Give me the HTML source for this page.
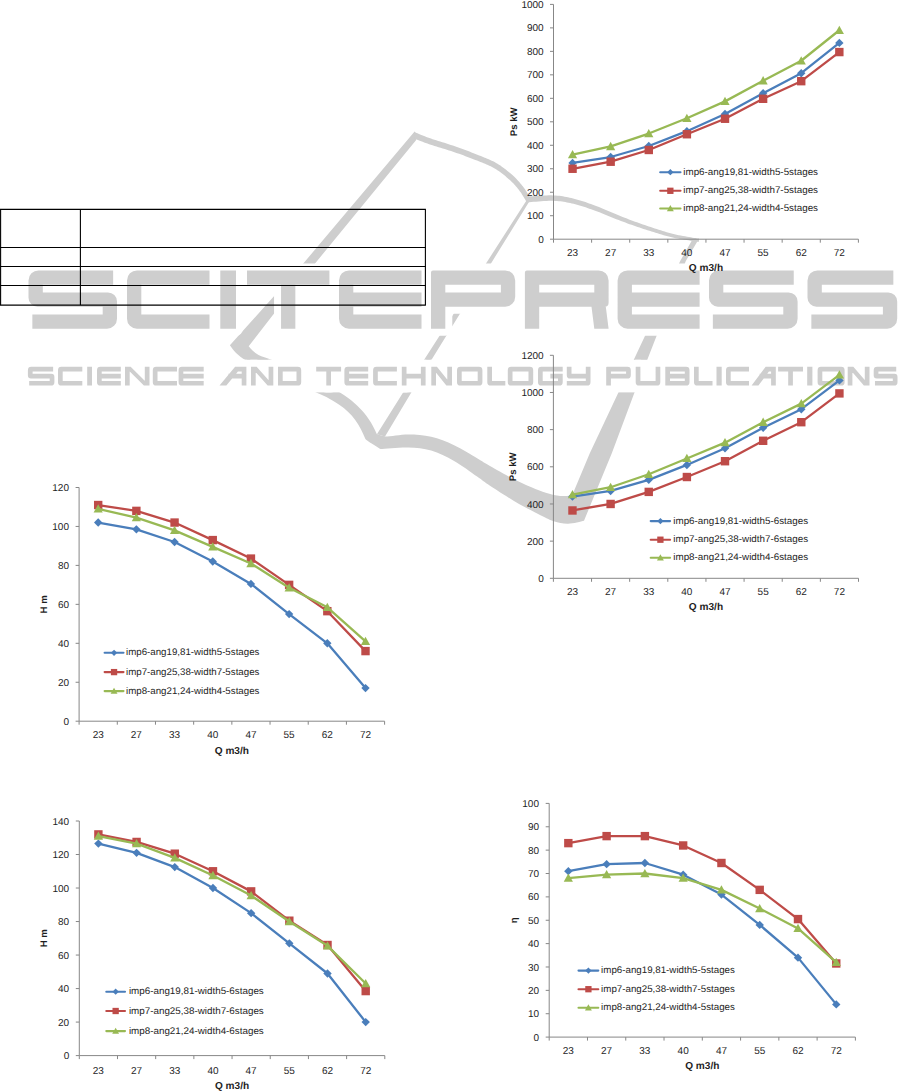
<!DOCTYPE html>
<html><head><meta charset="utf-8"><style>
html,body{margin:0;padding:0;background:#fff;}
body{width:915px;height:1092px;overflow:hidden;position:relative;}
svg{position:absolute;left:0;top:0;}
text{text-rendering:geometricPrecision;}
.ax{font-family:"Liberation Sans",sans-serif;font-size:10px;fill:#1e1e1e;}
.tt{font-family:"Liberation Sans",sans-serif;font-size:10.1px;font-weight:bold;fill:#1e1e1e;}
.yt{font-size:9.6px;}
.lg{font-family:"Liberation Sans",sans-serif;font-size:9.6px;fill:#1e1e1e;}
</style></head><body>
<svg width="915" height="1092" viewBox="0 0 915 1092">
<defs><filter id="bl" x="-5%" y="-5%" width="110%" height="110%"><feGaussianBlur stdDeviation="0.45"/></filter></defs><g filter="url(#bl)">
<path d="M414.6,131.5 L418,135 L416,140.2 L273.1,314.7 L248.7,346.2 C252,350 254,353 262,356.5 C272,360 285,364 300,370 L340,392.4 C352,400 368,412 376.9,434.2 L385,436.6  L380.2,449 C372,444 366,440 365.4,439.1 C360,425 352,413 339.2,404.7 C330,398 322,395 316.2,392.4 L245.6,360.2 C238,356 233,350 229.9,345.3 L303.7,263 Z" fill="#cecece"/>
<path d="M413.70,138.29 L414.39,138.56 L415.22,138.90 L416.19,139.29 L417.28,139.73 L418.49,140.22 L419.79,140.74 L421.18,141.29 L422.64,141.86 L424.17,142.44 L425.76,143.03 L427.38,143.61 L429.04,144.19 L430.77,144.77 L432.59,145.35 L434.50,145.95 L436.48,146.55 L438.52,147.17 L440.59,147.80 L442.70,148.43 L444.81,149.07 L446.92,149.72 L449.00,150.38 L451.06,151.05 L453.07,151.72 L455.08,152.41 L457.12,153.13 L459.19,153.86 L461.28,154.61 L463.36,155.36 L465.43,156.13 L467.48,156.89 L469.50,157.65 L471.48,158.41 L473.41,159.15 L475.26,159.88 L477.05,160.60 L478.78,161.29 L480.45,161.95 L482.05,162.58 L483.60,163.20 L485.09,163.80 L486.54,164.41 L487.95,165.02 L489.33,165.64 L490.69,166.29 L492.03,166.97 L493.36,167.69 L494.69,168.45 L496.03,169.28 L497.38,170.15 L498.74,171.08 L500.08,172.05 L501.42,173.04 L502.74,174.06 L504.04,175.09 L505.30,176.12 L506.52,177.15 L507.70,178.16 L508.83,179.14 L509.90,180.09 L510.89,180.99 L511.82,181.88 L512.69,182.75 L513.53,183.61 L514.32,184.46 L515.08,185.31 L515.81,186.16 L516.53,187.01 L517.23,187.87 L517.92,188.73 L518.61,189.61 L519.29,190.49 L519.97,191.39 L520.65,192.35 L521.33,193.36 L522.01,194.40 L522.68,195.45 L523.32,196.49 L523.94,197.50 L524.52,198.45 L525.05,199.34 L525.53,200.13 L525.95,200.82 L526.29,201.37 L530.71,198.63 L530.38,198.10 L529.99,197.45 L529.52,196.66 L529.00,195.77 L528.41,194.80 L527.79,193.76 L527.12,192.68 L526.43,191.57 L525.72,190.46 L524.98,189.37 L524.24,188.31 L523.51,187.31 L522.79,186.37 L522.08,185.46 L521.36,184.55 L520.63,183.64 L519.87,182.72 L519.08,181.80 L518.26,180.88 L517.41,179.95 L516.51,179.01 L515.56,178.05 L514.56,177.09 L513.50,176.11 L512.40,175.12 L511.23,174.09 L510.02,173.04 L508.75,171.97 L507.44,170.89 L506.10,169.80 L504.72,168.72 L503.31,167.66 L501.88,166.63 L500.43,165.62 L498.97,164.66 L497.51,163.75 L496.05,162.90 L494.59,162.10 L493.14,161.35 L491.68,160.65 L490.21,159.97 L488.72,159.32 L487.22,158.68 L485.69,158.05 L484.12,157.41 L482.51,156.77 L480.86,156.10 L479.15,155.40 L477.35,154.67 L475.46,153.92 L473.52,153.15 L471.52,152.38 L469.49,151.60 L467.42,150.81 L465.33,150.03 L463.23,149.25 L461.13,148.48 L459.04,147.73 L456.97,147.00 L454.93,146.28 L452.88,145.58 L450.78,144.88 L448.66,144.20 L446.53,143.53 L444.40,142.87 L442.29,142.22 L440.22,141.58 L438.21,140.96 L436.25,140.35 L434.38,139.75 L432.62,139.17 L430.96,138.61 L429.37,138.05 L427.81,137.47 L426.28,136.89 L424.79,136.32 L423.37,135.75 L422.01,135.21 L420.73,134.69 L419.55,134.20 L418.46,133.75 L417.48,133.35 L416.62,133.00 L415.90,132.71Z" fill="#cecece"/>
<path d="M526.19,202.49 L527.55,202.40 L529.28,202.25 L531.31,202.07 L533.58,201.87 L536.03,201.66 L538.60,201.45 L541.24,201.25 L543.89,201.07 L546.48,200.92 L548.96,200.82 L551.25,200.78 L553.31,200.80 L555.20,200.88 L557.02,200.99 L558.76,201.14 L560.45,201.33 L562.09,201.55 L563.71,201.80 L565.31,202.08 L566.91,202.39 L568.53,202.72 L570.17,203.08 L571.86,203.47 L573.59,203.87 L575.32,204.30 L577.03,204.75 L578.73,205.22 L580.43,205.72 L582.14,206.24 L583.87,206.79 L585.63,207.37 L587.43,207.99 L589.27,208.63 L591.17,209.30 L593.14,210.00 L595.17,210.73 L597.28,211.51 L599.49,212.36 L601.78,213.26 L604.14,214.20 L606.55,215.17 L608.98,216.16 L611.43,217.16 L613.87,218.15 L616.29,219.13 L618.67,220.07 L620.99,220.97 L623.23,221.82 L625.39,222.62 L627.50,223.39 L629.57,224.14 L631.61,224.86 L633.62,225.57 L635.61,226.26 L637.59,226.93 L639.56,227.60 L641.52,228.25 L643.50,228.90 L645.48,229.54 L647.48,230.18 L649.50,230.82 L651.52,231.46 L653.54,232.10 L655.57,232.74 L657.59,233.36 L659.62,233.97 L661.65,234.57 L663.67,235.15 L665.68,235.71 L667.69,236.25 L669.69,236.76 L671.68,237.25 L673.72,237.71 L675.84,238.15 L678.01,238.57 L680.20,238.97 L682.37,239.35 L684.51,239.71 L686.58,240.04 L688.54,240.35 L690.37,240.63 L692.03,240.89 L693.49,241.11 L694.74,241.31 L695.76,241.47 L696.59,241.58 L697.24,241.66 L697.76,241.70 L698.17,241.72 L698.53,241.71 L698.89,241.67 L699.22,241.57 L699.38,241.50 L699.21,241.56 L698.96,241.60 L698.97,241.60 L699.03,238.40 L698.77,238.40 L698.36,238.47 L698.07,238.58 L698.10,238.57 L698.26,238.52 L698.33,238.51 L698.25,238.51 L698.00,238.50 L697.60,238.45 L697.03,238.38 L696.26,238.26 L695.26,238.09 L694.02,237.88 L692.55,237.63 L690.89,237.35 L689.08,237.05 L687.13,236.71 L685.09,236.35 L682.98,235.97 L680.83,235.56 L678.68,235.13 L676.56,234.69 L674.50,234.23 L672.52,233.75 L670.59,233.25 L668.64,232.72 L666.68,232.17 L664.70,231.59 L662.72,230.99 L660.73,230.36 L658.73,229.73 L656.73,229.08 L654.73,228.42 L652.72,227.76 L650.72,227.09 L648.72,226.42 L646.73,225.75 L644.77,225.09 L642.82,224.41 L640.88,223.74 L638.94,223.05 L636.99,222.35 L635.02,221.64 L633.04,220.91 L631.03,220.17 L628.98,219.40 L626.90,218.60 L624.77,217.78 L622.58,216.91 L620.31,215.99 L617.97,215.02 L615.58,214.02 L613.16,212.99 L610.73,211.96 L608.30,210.93 L605.90,209.92 L603.53,208.93 L601.22,207.99 L598.98,207.09 L596.83,206.27 L594.79,205.50 L592.82,204.76 L590.91,204.06 L589.05,203.38 L587.22,202.73 L585.43,202.11 L583.66,201.51 L581.90,200.94 L580.14,200.40 L578.38,199.88 L576.60,199.39 L574.81,198.93 L573.05,198.49 L571.33,198.07 L569.64,197.67 L567.97,197.30 L566.29,196.95 L564.59,196.63 L562.88,196.34 L561.12,196.08 L559.32,195.85 L557.46,195.66 L555.52,195.51 L553.49,195.40 L551.27,195.34 L548.84,195.36 L546.26,195.42 L543.59,195.53 L540.88,195.68 L538.20,195.84 L535.59,196.02 L533.12,196.20 L530.85,196.36 L528.83,196.51 L527.14,196.63 L525.81,196.71Z" fill="#cecece"/>
<path d="M526.8,200 L530.2,200 L411.3,392.4 L385,436.6 L376.9,434.2 L403.1,392.4 Z" fill="#cecece"/>
<path d="M376.90,434.20 C378.25,434.60 379.78,436.55 385.00,436.60 C390.22,436.65 400.50,434.47 408.20,434.50 C415.90,434.53 423.55,435.02 431.20,436.80 C438.85,438.58 446.45,441.63 454.10,445.20 C461.75,448.77 471.12,454.73 477.10,458.20 C483.08,461.67 483.85,462.50 490.00,466.00 C496.15,469.50 505.98,475.20 514.00,479.20 C522.02,483.20 531.48,487.38 538.10,490.00 C544.72,492.62 548.90,493.88 553.70,494.90 C558.50,495.92 563.77,496.17 566.90,496.10 C570.03,496.03 571.57,494.77 572.50,494.50 L589.8,453.3 L618.4,392.5 L680.2,261 L693,238.5 L698.5,239.5 L685.8,261 L634.5,392.5 L611.8,453.3 L584,520.7 C581.35,521.20 573.15,523.60 568.10,523.70 C563.05,523.80 558.70,522.90 553.70,521.30 C548.70,519.70 544.72,517.50 538.10,514.10 C531.48,510.70 522.02,505.62 514.00,500.90 C505.98,496.18 496.15,489.85 490.00,485.80 C483.85,481.75 483.08,480.73 477.10,476.60 C471.12,472.47 461.75,465.33 454.10,461.00 C446.45,456.67 438.85,452.85 431.20,450.60 C423.55,448.35 416.70,447.77 408.20,447.50 C399.70,447.23 384.87,448.75 380.20,449.00 Z" fill="#cecece"/>
<path d="M38.50,270.40L113.14,270.40L113.14,284.70L28.50,284.70L28.50,280.40A10,10 0 0 1 38.50,270.40ZM38.50,270.40L42.80,270.40L42.80,306.75L37.50,306.75A9.0,9.0 0 0 1 28.50,297.75L28.50,280.40A10,10 0 0 1 38.50,270.40ZM28.50,292.45L108.00,292.45A9.0,9.0 0 0 1 117.00,301.45L117.00,306.75L37.50,306.75A9.0,9.0 0 0 1 28.50,297.75L28.50,292.45ZM102.70,292.45L108.00,292.45A9.0,9.0 0 0 1 117.00,301.45L117.00,318.80A10,10 0 0 1 107.00,328.80L102.70,328.80L102.70,292.45ZM32.36,314.50L117.00,314.50L117.00,318.80A10,10 0 0 1 107.00,328.80L32.36,328.80L32.36,314.50ZM137.00,270.40L209.50,270.40L209.50,284.70L127.00,284.70L127.00,280.40A10,10 0 0 1 137.00,270.40ZM137.00,270.40L141.30,270.40L141.30,328.80L137.00,328.80A10,10 0 0 1 127.00,318.80L127.00,280.40A10,10 0 0 1 137.00,270.40ZM127.00,314.50L209.50,314.50L209.50,328.80L137.00,328.80A10,10 0 0 1 127.00,318.80L127.00,314.50ZM220.30,270.40L236.00,270.40L236.00,328.80L220.30,328.80L220.30,270.40ZM247.00,270.40L329.40,270.40L329.40,284.70L247.00,284.70L247.00,270.40ZM281.05,270.40L295.35,270.40L295.35,328.80L281.05,328.80L281.05,270.40ZM349.00,270.40L421.50,270.40L421.50,284.70L339.00,284.70L339.00,280.40A10,10 0 0 1 349.00,270.40ZM349.00,270.40L353.30,270.40L353.30,328.80L349.00,328.80A10,10 0 0 1 339.00,318.80L339.00,280.40A10,10 0 0 1 349.00,270.40ZM339.00,292.45L421.50,292.45L421.50,306.75L339.00,306.75L339.00,292.45ZM339.00,314.50L421.50,314.50L421.50,328.80L349.00,328.80A10,10 0 0 1 339.00,318.80L339.00,314.50ZM433.00,270.40L505.20,270.40A10,10 0 0 1 515.20,280.40L515.20,284.70L431.00,284.70L431.00,272.40A2.0,2.0 0 0 1 433.00,270.40ZM433.00,270.40L445.30,270.40L445.30,328.80L431.00,328.80L431.00,272.40A2.0,2.0 0 0 1 433.00,270.40ZM500.90,270.40L505.20,270.40A10,10 0 0 1 515.20,280.40L515.20,296.75A10,10 0 0 1 505.20,306.75L500.90,306.75L500.90,270.40ZM431.00,292.45L515.20,292.45L515.20,296.75A10,10 0 0 1 505.20,306.75L431.00,306.75L431.00,292.45ZM526.90,270.40L598.60,270.40A10,10 0 0 1 608.60,280.40L608.60,284.70L524.90,284.70L524.90,272.40A2.0,2.0 0 0 1 526.90,270.40ZM526.90,270.40L539.20,270.40L539.20,328.80L524.90,328.80L524.90,272.40A2.0,2.0 0 0 1 526.90,270.40ZM594.30,270.40L598.60,270.40A10,10 0 0 1 608.60,280.40L608.60,302.75A4.0,4.0 0 0 1 604.60,306.75L594.30,306.75L594.30,270.40ZM524.90,292.45L605.74,292.45L605.74,302.75A4.0,4.0 0 0 1 601.74,306.75L524.90,306.75L524.90,292.45ZM591.44,306.25 L605.74,306.25 L608.60,328.80 L594.30,328.80ZM627.60,270.40L699.60,270.40L699.60,284.70L617.60,284.70L617.60,280.40A10,10 0 0 1 627.60,270.40ZM627.60,270.40L631.90,270.40L631.90,328.80L627.60,328.80A10,10 0 0 1 617.60,318.80L617.60,280.40A10,10 0 0 1 627.60,270.40ZM617.60,292.45L699.60,292.45L699.60,306.75L617.60,306.75L617.60,292.45ZM617.60,314.50L699.60,314.50L699.60,328.80L627.60,328.80A10,10 0 0 1 617.60,318.80L617.60,314.50ZM719.00,270.40L793.74,270.40L793.74,284.70L709.00,284.70L709.00,280.40A10,10 0 0 1 719.00,270.40ZM719.00,270.40L723.30,270.40L723.30,306.75L718.00,306.75A9.0,9.0 0 0 1 709.00,297.75L709.00,280.40A10,10 0 0 1 719.00,270.40ZM709.00,292.45L788.60,292.45A9.0,9.0 0 0 1 797.60,301.45L797.60,306.75L718.00,306.75A9.0,9.0 0 0 1 709.00,297.75L709.00,292.45ZM783.30,292.45L788.60,292.45A9.0,9.0 0 0 1 797.60,301.45L797.60,318.80A10,10 0 0 1 787.60,328.80L783.30,328.80L783.30,292.45ZM712.86,314.50L797.60,314.50L797.60,318.80A10,10 0 0 1 787.60,328.80L712.86,328.80L712.86,314.50ZM817.50,270.40L893.34,270.40L893.34,284.70L807.50,284.70L807.50,280.40A10,10 0 0 1 817.50,270.40ZM817.50,270.40L821.80,270.40L821.80,306.75L816.50,306.75A9.0,9.0 0 0 1 807.50,297.75L807.50,280.40A10,10 0 0 1 817.50,270.40ZM807.50,292.45L888.20,292.45A9.0,9.0 0 0 1 897.20,301.45L897.20,306.75L816.50,306.75A9.0,9.0 0 0 1 807.50,297.75L807.50,292.45ZM882.90,292.45L888.20,292.45A9.0,9.0 0 0 1 897.20,301.45L897.20,318.80A10,10 0 0 1 887.20,328.80L882.90,328.80L882.90,292.45ZM811.36,314.50L897.20,314.50L897.20,318.80A10,10 0 0 1 887.20,328.80L811.36,328.80L811.36,314.50ZM31.30,366.80L53.13,366.80L53.13,371.50L27.90,371.50L27.90,370.20A3.4,3.4 0 0 1 31.30,366.80ZM31.30,366.80L32.60,366.80L32.60,378.55L30.96,378.55A3.06,3.06 0 0 1 27.90,375.49L27.90,370.20A3.4,3.4 0 0 1 31.30,366.80ZM27.90,373.85L51.34,373.85A3.06,3.06 0 0 1 54.40,376.91L54.40,378.55L30.96,378.55A3.06,3.06 0 0 1 27.90,375.49L27.90,373.85ZM49.70,373.85L51.34,373.85A3.06,3.06 0 0 1 54.40,376.91L54.40,382.20A3.4,3.4 0 0 1 51.00,385.60L49.70,385.60L49.70,373.85ZM29.17,380.90L54.40,380.90L54.40,382.20A3.4,3.4 0 0 1 51.00,385.60L29.17,385.60L29.17,380.90ZM61.40,366.80L82.30,366.80L82.30,371.50L58.00,371.50L58.00,370.20A3.4,3.4 0 0 1 61.40,366.80ZM61.40,366.80L62.70,366.80L62.70,385.60L61.40,385.60A3.4,3.4 0 0 1 58.00,382.20L58.00,370.20A3.4,3.4 0 0 1 61.40,366.80ZM58.00,380.90L82.30,380.90L82.30,385.60L61.40,385.60A3.4,3.4 0 0 1 58.00,382.20L58.00,380.90ZM87.20,366.80L92.00,366.80L92.00,385.60L87.20,385.60L87.20,366.80ZM100.40,366.80L120.80,366.80L120.80,371.50L97.00,371.50L97.00,370.20A3.4,3.4 0 0 1 100.40,366.80ZM100.40,366.80L101.70,366.80L101.70,385.60L100.40,385.60A3.4,3.4 0 0 1 97.00,382.20L97.00,370.20A3.4,3.4 0 0 1 100.40,366.80ZM97.00,373.85L120.80,373.85L120.80,378.55L97.00,378.55L97.00,373.85ZM97.00,380.90L120.80,380.90L120.80,385.60L100.40,385.60A3.4,3.4 0 0 1 97.00,382.20L97.00,380.90ZM125.00,366.80L129.70,366.80L129.70,385.60L125.00,385.60L125.00,366.80ZM144.80,366.80L149.50,366.80L149.50,385.60L144.80,385.60L144.80,366.80ZM125.00,366.80 L130.64,366.80 L149.50,385.60 L143.86,385.60ZM156.20,366.80L177.00,366.80L177.00,371.50L152.80,371.50L152.80,370.20A3.4,3.4 0 0 1 156.20,366.80ZM156.20,366.80L157.50,366.80L157.50,385.60L156.20,385.60A3.4,3.4 0 0 1 152.80,382.20L152.80,370.20A3.4,3.4 0 0 1 156.20,366.80ZM152.80,380.90L177.00,380.90L177.00,385.60L156.20,385.60A3.4,3.4 0 0 1 152.80,382.20L152.80,380.90ZM182.00,366.80L203.70,366.80L203.70,371.50L178.60,371.50L178.60,370.20A3.4,3.4 0 0 1 182.00,366.80ZM182.00,366.80L183.30,366.80L183.30,385.60L182.00,385.60A3.4,3.4 0 0 1 178.60,382.20L178.60,370.20A3.4,3.4 0 0 1 182.00,366.80ZM178.60,373.85L203.70,373.85L203.70,378.55L178.60,378.55L178.60,373.85ZM178.60,380.90L203.70,380.90L203.70,385.60L182.00,385.60A3.4,3.4 0 0 1 178.60,382.20L178.60,380.90ZM241.70,366.80L246.40,366.80L246.40,385.60L241.70,385.60L241.70,366.80ZM236.12,366.80L246.40,366.80L246.40,371.50L235.10,371.50L235.10,367.82A1.02,1.02 0 0 1 236.12,366.80ZM219.50,385.60 L235.10,366.80 L241.92,366.80 L226.31,385.60ZM228.38,373.85L246.40,373.85L246.40,378.55L228.38,378.55L228.38,373.85ZM251.00,366.80L255.70,366.80L255.70,385.60L251.00,385.60L251.00,366.80ZM268.60,366.80L273.30,366.80L273.30,385.60L268.60,385.60L268.60,366.80ZM251.00,366.80 L256.64,366.80 L273.30,385.60 L267.66,385.60ZM278.00,366.80L297.80,366.80A3.4,3.4 0 0 1 301.20,370.20L301.20,371.50L278.00,371.50L278.00,366.80ZM278.00,366.80L282.70,366.80L282.70,385.60L278.00,385.60L278.00,366.80ZM296.50,366.80L297.80,366.80A3.4,3.4 0 0 1 301.20,370.20L301.20,382.20A3.4,3.4 0 0 1 297.80,385.60L296.50,385.60L296.50,366.80ZM278.00,380.90L301.20,380.90L301.20,382.20A3.4,3.4 0 0 1 297.80,385.60L278.00,385.60L278.00,380.90ZM316.20,366.80L341.10,366.80L341.10,371.50L316.20,371.50L316.20,366.80ZM326.30,366.80L331.00,366.80L331.00,385.60L326.30,385.60L326.30,366.80ZM347.80,366.80L368.20,366.80L368.20,371.50L344.40,371.50L344.40,370.20A3.4,3.4 0 0 1 347.80,366.80ZM347.80,366.80L349.10,366.80L349.10,385.60L347.80,385.60A3.4,3.4 0 0 1 344.40,382.20L344.40,370.20A3.4,3.4 0 0 1 347.80,366.80ZM344.40,373.85L368.20,373.85L368.20,378.55L344.40,378.55L344.40,373.85ZM344.40,380.90L368.20,380.90L368.20,385.60L347.80,385.60A3.4,3.4 0 0 1 344.40,382.20L344.40,380.90ZM376.50,366.80L396.90,366.80L396.90,371.50L373.10,371.50L373.10,370.20A3.4,3.4 0 0 1 376.50,366.80ZM376.50,366.80L377.80,366.80L377.80,385.60L376.50,385.60A3.4,3.4 0 0 1 373.10,382.20L373.10,370.20A3.4,3.4 0 0 1 376.50,366.80ZM373.10,380.90L396.90,380.90L396.90,385.60L376.50,385.60A3.4,3.4 0 0 1 373.10,382.20L373.10,380.90ZM401.80,366.80L406.50,366.80L406.50,385.60L401.80,385.60L401.80,366.80ZM420.90,366.80L425.60,366.80L425.60,385.60L420.90,385.60L420.90,366.80ZM401.80,373.85L425.60,373.85L425.60,378.55L401.80,378.55L401.80,373.85ZM431.30,366.80L436.00,366.80L436.00,385.60L431.30,385.60L431.30,366.80ZM447.30,366.80L452.00,366.80L452.00,385.60L447.30,385.60L447.30,366.80ZM431.30,366.80 L436.94,366.80 L452.00,385.60 L446.36,385.60ZM460.40,366.80L479.00,366.80A3.4,3.4 0 0 1 482.40,370.20L482.40,371.50L457.00,371.50L457.00,370.20A3.4,3.4 0 0 1 460.40,366.80ZM460.40,366.80L461.70,366.80L461.70,385.60L460.40,385.60A3.4,3.4 0 0 1 457.00,382.20L457.00,370.20A3.4,3.4 0 0 1 460.40,366.80ZM477.70,366.80L479.00,366.80A3.4,3.4 0 0 1 482.40,370.20L482.40,382.20A3.4,3.4 0 0 1 479.00,385.60L477.70,385.60L477.70,366.80ZM457.00,380.90L482.40,380.90L482.40,382.20A3.4,3.4 0 0 1 479.00,385.60L460.40,385.60A3.4,3.4 0 0 1 457.00,382.20L457.00,380.90ZM487.30,366.80L492.00,366.80L492.00,385.60L490.70,385.60A3.4,3.4 0 0 1 487.30,382.20L487.30,366.80ZM487.30,380.90L505.30,380.90L505.30,385.60L490.70,385.60A3.4,3.4 0 0 1 487.30,382.20L487.30,380.90ZM511.20,366.80L529.80,366.80A3.4,3.4 0 0 1 533.20,370.20L533.20,371.50L507.80,371.50L507.80,370.20A3.4,3.4 0 0 1 511.20,366.80ZM511.20,366.80L512.50,366.80L512.50,385.60L511.20,385.60A3.4,3.4 0 0 1 507.80,382.20L507.80,370.20A3.4,3.4 0 0 1 511.20,366.80ZM528.50,366.80L529.80,366.80A3.4,3.4 0 0 1 533.20,370.20L533.20,382.20A3.4,3.4 0 0 1 529.80,385.60L528.50,385.60L528.50,366.80ZM507.80,380.90L533.20,380.90L533.20,382.20A3.4,3.4 0 0 1 529.80,385.60L511.20,385.60A3.4,3.4 0 0 1 507.80,382.20L507.80,380.90ZM541.40,366.80L562.70,366.80L562.70,371.50L538.00,371.50L538.00,370.20A3.4,3.4 0 0 1 541.40,366.80ZM541.40,366.80L542.70,366.80L542.70,385.60L541.40,385.60A3.4,3.4 0 0 1 538.00,382.20L538.00,370.20A3.4,3.4 0 0 1 541.40,366.80ZM538.00,380.90L562.70,380.90L562.70,382.20A3.4,3.4 0 0 1 559.30,385.60L541.40,385.60A3.4,3.4 0 0 1 538.00,382.20L538.00,380.90ZM558.00,373.85L562.70,373.85L562.70,382.20A3.4,3.4 0 0 1 559.30,385.60L558.00,385.60L558.00,373.85ZM550.35,373.85L562.70,373.85L562.70,378.55L550.35,378.55L550.35,373.85ZM566.80,366.80L571.50,366.80L571.50,378.55L570.20,378.55A3.4,3.4 0 0 1 566.80,375.15L566.80,366.80ZM566.80,373.85L590.50,373.85L590.50,378.55L570.20,378.55A3.4,3.4 0 0 1 566.80,375.15L566.80,373.85ZM585.80,366.80L590.50,366.80L590.50,382.20A3.4,3.4 0 0 1 587.10,385.60L585.80,385.60L585.80,366.80ZM566.80,380.90L590.50,380.90L590.50,382.20A3.4,3.4 0 0 1 587.10,385.60L566.80,385.60L566.80,380.90ZM606.88,366.80L627.40,366.80A3.4,3.4 0 0 1 630.80,370.20L630.80,371.50L606.20,371.50L606.20,367.48A0.68,0.68 0 0 1 606.88,366.80ZM606.88,366.80L610.90,366.80L610.90,385.60L606.20,385.60L606.20,367.48A0.68,0.68 0 0 1 606.88,366.80ZM626.10,366.80L627.40,366.80A3.4,3.4 0 0 1 630.80,370.20L630.80,375.15A3.4,3.4 0 0 1 627.40,378.55L626.10,378.55L626.10,366.80ZM606.20,373.85L630.80,373.85L630.80,375.15A3.4,3.4 0 0 1 627.40,378.55L606.20,378.55L606.20,373.85ZM635.70,366.80L640.40,366.80L640.40,385.60L639.10,385.60A3.4,3.4 0 0 1 635.70,382.20L635.70,366.80ZM655.60,366.80L660.30,366.80L660.30,382.20A3.4,3.4 0 0 1 656.90,385.60L655.60,385.60L655.60,366.80ZM635.70,380.90L660.30,380.90L660.30,382.20A3.4,3.4 0 0 1 656.90,385.60L639.10,385.60A3.4,3.4 0 0 1 635.70,382.20L635.70,380.90ZM665.30,366.80L686.10,366.80A3.4,3.4 0 0 1 689.50,370.20L689.50,371.50L665.30,371.50L665.30,366.80ZM665.30,366.80L670.00,366.80L670.00,385.60L665.30,385.60L665.30,366.80ZM684.80,366.80L686.10,366.80A3.4,3.4 0 0 1 689.50,370.20L689.50,382.20A3.4,3.4 0 0 1 686.10,385.60L684.80,385.60L684.80,366.80ZM665.30,373.85L689.50,373.85L689.50,378.55L665.30,378.55L665.30,373.85ZM665.30,380.90L689.50,380.90L689.50,382.20A3.4,3.4 0 0 1 686.10,385.60L665.30,385.60L665.30,380.90ZM694.00,366.80L698.70,366.80L698.70,385.60L697.40,385.60A3.4,3.4 0 0 1 694.00,382.20L694.00,366.80ZM694.00,380.90L712.50,380.90L712.50,385.60L697.40,385.60A3.4,3.4 0 0 1 694.00,382.20L694.00,380.90ZM716.50,366.80L721.70,366.80L721.70,385.60L716.50,385.60L716.50,366.80ZM729.40,366.80L749.00,366.80L749.00,371.50L726.00,371.50L726.00,370.20A3.4,3.4 0 0 1 729.40,366.80ZM729.40,366.80L730.70,366.80L730.70,385.60L729.40,385.60A3.4,3.4 0 0 1 726.00,382.20L726.00,370.20A3.4,3.4 0 0 1 729.40,366.80ZM726.00,380.90L749.00,380.90L749.00,385.60L729.40,385.60A3.4,3.4 0 0 1 726.00,382.20L726.00,380.90ZM771.10,366.80L775.80,366.80L775.80,385.60L771.10,385.60L771.10,366.80ZM766.66,366.80L775.80,366.80L775.80,371.50L765.64,371.50L765.64,367.82A1.02,1.02 0 0 1 766.66,366.80ZM751.60,385.60 L765.64,366.80 L772.45,366.80 L758.42,385.60ZM759.59,373.85L775.80,373.85L775.80,378.55L759.59,378.55L759.59,373.85ZM778.10,366.80L803.00,366.80L803.00,371.50L778.10,371.50L778.10,366.80ZM788.20,366.80L792.90,366.80L792.90,385.60L788.20,385.60L788.20,366.80ZM807.20,366.80L812.40,366.80L812.40,385.60L807.20,385.60L807.20,366.80ZM821.00,366.80L841.20,366.80A3.4,3.4 0 0 1 844.60,370.20L844.60,371.50L817.60,371.50L817.60,370.20A3.4,3.4 0 0 1 821.00,366.80ZM821.00,366.80L822.30,366.80L822.30,385.60L821.00,385.60A3.4,3.4 0 0 1 817.60,382.20L817.60,370.20A3.4,3.4 0 0 1 821.00,366.80ZM839.90,366.80L841.20,366.80A3.4,3.4 0 0 1 844.60,370.20L844.60,382.20A3.4,3.4 0 0 1 841.20,385.60L839.90,385.60L839.90,366.80ZM817.60,380.90L844.60,380.90L844.60,382.20A3.4,3.4 0 0 1 841.20,385.60L821.00,385.60A3.4,3.4 0 0 1 817.60,382.20L817.60,380.90ZM847.70,366.80L852.40,366.80L852.40,385.60L847.70,385.60L847.70,366.80ZM864.80,366.80L869.50,366.80L869.50,385.60L864.80,385.60L864.80,366.80ZM847.70,366.80 L853.34,366.80 L869.50,385.60 L863.86,385.60ZM877.10,366.80L896.23,366.80L896.23,371.50L873.70,371.50L873.70,370.20A3.4,3.4 0 0 1 877.10,366.80ZM877.10,366.80L878.40,366.80L878.40,378.55L876.76,378.55A3.06,3.06 0 0 1 873.70,375.49L873.70,370.20A3.4,3.4 0 0 1 877.10,366.80ZM873.70,373.85L894.44,373.85A3.06,3.06 0 0 1 897.50,376.91L897.50,378.55L876.76,378.55A3.06,3.06 0 0 1 873.70,375.49L873.70,373.85ZM892.80,373.85L894.44,373.85A3.06,3.06 0 0 1 897.50,376.91L897.50,382.20A3.4,3.4 0 0 1 894.10,385.60L892.80,385.60L892.80,373.85ZM874.97,380.90L897.50,380.90L897.50,382.20A3.4,3.4 0 0 1 894.10,385.60L874.97,385.60L874.97,380.90Z" fill="#fff" stroke="#fff" stroke-width="14" stroke-linejoin="round"/>
<rect x="20" y="359.8" width="885" height="32.6" fill="#fff"/>
<path d="M38.50,270.40L113.14,270.40L113.14,284.70L28.50,284.70L28.50,280.40A10,10 0 0 1 38.50,270.40ZM38.50,270.40L42.80,270.40L42.80,306.75L37.50,306.75A9.0,9.0 0 0 1 28.50,297.75L28.50,280.40A10,10 0 0 1 38.50,270.40ZM28.50,292.45L108.00,292.45A9.0,9.0 0 0 1 117.00,301.45L117.00,306.75L37.50,306.75A9.0,9.0 0 0 1 28.50,297.75L28.50,292.45ZM102.70,292.45L108.00,292.45A9.0,9.0 0 0 1 117.00,301.45L117.00,318.80A10,10 0 0 1 107.00,328.80L102.70,328.80L102.70,292.45ZM32.36,314.50L117.00,314.50L117.00,318.80A10,10 0 0 1 107.00,328.80L32.36,328.80L32.36,314.50ZM137.00,270.40L209.50,270.40L209.50,284.70L127.00,284.70L127.00,280.40A10,10 0 0 1 137.00,270.40ZM137.00,270.40L141.30,270.40L141.30,328.80L137.00,328.80A10,10 0 0 1 127.00,318.80L127.00,280.40A10,10 0 0 1 137.00,270.40ZM127.00,314.50L209.50,314.50L209.50,328.80L137.00,328.80A10,10 0 0 1 127.00,318.80L127.00,314.50ZM220.30,270.40L236.00,270.40L236.00,328.80L220.30,328.80L220.30,270.40ZM247.00,270.40L329.40,270.40L329.40,284.70L247.00,284.70L247.00,270.40ZM281.05,270.40L295.35,270.40L295.35,328.80L281.05,328.80L281.05,270.40ZM349.00,270.40L421.50,270.40L421.50,284.70L339.00,284.70L339.00,280.40A10,10 0 0 1 349.00,270.40ZM349.00,270.40L353.30,270.40L353.30,328.80L349.00,328.80A10,10 0 0 1 339.00,318.80L339.00,280.40A10,10 0 0 1 349.00,270.40ZM339.00,292.45L421.50,292.45L421.50,306.75L339.00,306.75L339.00,292.45ZM339.00,314.50L421.50,314.50L421.50,328.80L349.00,328.80A10,10 0 0 1 339.00,318.80L339.00,314.50ZM433.00,270.40L505.20,270.40A10,10 0 0 1 515.20,280.40L515.20,284.70L431.00,284.70L431.00,272.40A2.0,2.0 0 0 1 433.00,270.40ZM433.00,270.40L445.30,270.40L445.30,328.80L431.00,328.80L431.00,272.40A2.0,2.0 0 0 1 433.00,270.40ZM500.90,270.40L505.20,270.40A10,10 0 0 1 515.20,280.40L515.20,296.75A10,10 0 0 1 505.20,306.75L500.90,306.75L500.90,270.40ZM431.00,292.45L515.20,292.45L515.20,296.75A10,10 0 0 1 505.20,306.75L431.00,306.75L431.00,292.45ZM526.90,270.40L598.60,270.40A10,10 0 0 1 608.60,280.40L608.60,284.70L524.90,284.70L524.90,272.40A2.0,2.0 0 0 1 526.90,270.40ZM526.90,270.40L539.20,270.40L539.20,328.80L524.90,328.80L524.90,272.40A2.0,2.0 0 0 1 526.90,270.40ZM594.30,270.40L598.60,270.40A10,10 0 0 1 608.60,280.40L608.60,302.75A4.0,4.0 0 0 1 604.60,306.75L594.30,306.75L594.30,270.40ZM524.90,292.45L605.74,292.45L605.74,302.75A4.0,4.0 0 0 1 601.74,306.75L524.90,306.75L524.90,292.45ZM591.44,306.25 L605.74,306.25 L608.60,328.80 L594.30,328.80ZM627.60,270.40L699.60,270.40L699.60,284.70L617.60,284.70L617.60,280.40A10,10 0 0 1 627.60,270.40ZM627.60,270.40L631.90,270.40L631.90,328.80L627.60,328.80A10,10 0 0 1 617.60,318.80L617.60,280.40A10,10 0 0 1 627.60,270.40ZM617.60,292.45L699.60,292.45L699.60,306.75L617.60,306.75L617.60,292.45ZM617.60,314.50L699.60,314.50L699.60,328.80L627.60,328.80A10,10 0 0 1 617.60,318.80L617.60,314.50ZM719.00,270.40L793.74,270.40L793.74,284.70L709.00,284.70L709.00,280.40A10,10 0 0 1 719.00,270.40ZM719.00,270.40L723.30,270.40L723.30,306.75L718.00,306.75A9.0,9.0 0 0 1 709.00,297.75L709.00,280.40A10,10 0 0 1 719.00,270.40ZM709.00,292.45L788.60,292.45A9.0,9.0 0 0 1 797.60,301.45L797.60,306.75L718.00,306.75A9.0,9.0 0 0 1 709.00,297.75L709.00,292.45ZM783.30,292.45L788.60,292.45A9.0,9.0 0 0 1 797.60,301.45L797.60,318.80A10,10 0 0 1 787.60,328.80L783.30,328.80L783.30,292.45ZM712.86,314.50L797.60,314.50L797.60,318.80A10,10 0 0 1 787.60,328.80L712.86,328.80L712.86,314.50ZM817.50,270.40L893.34,270.40L893.34,284.70L807.50,284.70L807.50,280.40A10,10 0 0 1 817.50,270.40ZM817.50,270.40L821.80,270.40L821.80,306.75L816.50,306.75A9.0,9.0 0 0 1 807.50,297.75L807.50,280.40A10,10 0 0 1 817.50,270.40ZM807.50,292.45L888.20,292.45A9.0,9.0 0 0 1 897.20,301.45L897.20,306.75L816.50,306.75A9.0,9.0 0 0 1 807.50,297.75L807.50,292.45ZM882.90,292.45L888.20,292.45A9.0,9.0 0 0 1 897.20,301.45L897.20,318.80A10,10 0 0 1 887.20,328.80L882.90,328.80L882.90,292.45ZM811.36,314.50L897.20,314.50L897.20,318.80A10,10 0 0 1 887.20,328.80L811.36,328.80L811.36,314.50ZM31.30,366.80L53.13,366.80L53.13,371.50L27.90,371.50L27.90,370.20A3.4,3.4 0 0 1 31.30,366.80ZM31.30,366.80L32.60,366.80L32.60,378.55L30.96,378.55A3.06,3.06 0 0 1 27.90,375.49L27.90,370.20A3.4,3.4 0 0 1 31.30,366.80ZM27.90,373.85L51.34,373.85A3.06,3.06 0 0 1 54.40,376.91L54.40,378.55L30.96,378.55A3.06,3.06 0 0 1 27.90,375.49L27.90,373.85ZM49.70,373.85L51.34,373.85A3.06,3.06 0 0 1 54.40,376.91L54.40,382.20A3.4,3.4 0 0 1 51.00,385.60L49.70,385.60L49.70,373.85ZM29.17,380.90L54.40,380.90L54.40,382.20A3.4,3.4 0 0 1 51.00,385.60L29.17,385.60L29.17,380.90ZM61.40,366.80L82.30,366.80L82.30,371.50L58.00,371.50L58.00,370.20A3.4,3.4 0 0 1 61.40,366.80ZM61.40,366.80L62.70,366.80L62.70,385.60L61.40,385.60A3.4,3.4 0 0 1 58.00,382.20L58.00,370.20A3.4,3.4 0 0 1 61.40,366.80ZM58.00,380.90L82.30,380.90L82.30,385.60L61.40,385.60A3.4,3.4 0 0 1 58.00,382.20L58.00,380.90ZM87.20,366.80L92.00,366.80L92.00,385.60L87.20,385.60L87.20,366.80ZM100.40,366.80L120.80,366.80L120.80,371.50L97.00,371.50L97.00,370.20A3.4,3.4 0 0 1 100.40,366.80ZM100.40,366.80L101.70,366.80L101.70,385.60L100.40,385.60A3.4,3.4 0 0 1 97.00,382.20L97.00,370.20A3.4,3.4 0 0 1 100.40,366.80ZM97.00,373.85L120.80,373.85L120.80,378.55L97.00,378.55L97.00,373.85ZM97.00,380.90L120.80,380.90L120.80,385.60L100.40,385.60A3.4,3.4 0 0 1 97.00,382.20L97.00,380.90ZM125.00,366.80L129.70,366.80L129.70,385.60L125.00,385.60L125.00,366.80ZM144.80,366.80L149.50,366.80L149.50,385.60L144.80,385.60L144.80,366.80ZM125.00,366.80 L130.64,366.80 L149.50,385.60 L143.86,385.60ZM156.20,366.80L177.00,366.80L177.00,371.50L152.80,371.50L152.80,370.20A3.4,3.4 0 0 1 156.20,366.80ZM156.20,366.80L157.50,366.80L157.50,385.60L156.20,385.60A3.4,3.4 0 0 1 152.80,382.20L152.80,370.20A3.4,3.4 0 0 1 156.20,366.80ZM152.80,380.90L177.00,380.90L177.00,385.60L156.20,385.60A3.4,3.4 0 0 1 152.80,382.20L152.80,380.90ZM182.00,366.80L203.70,366.80L203.70,371.50L178.60,371.50L178.60,370.20A3.4,3.4 0 0 1 182.00,366.80ZM182.00,366.80L183.30,366.80L183.30,385.60L182.00,385.60A3.4,3.4 0 0 1 178.60,382.20L178.60,370.20A3.4,3.4 0 0 1 182.00,366.80ZM178.60,373.85L203.70,373.85L203.70,378.55L178.60,378.55L178.60,373.85ZM178.60,380.90L203.70,380.90L203.70,385.60L182.00,385.60A3.4,3.4 0 0 1 178.60,382.20L178.60,380.90ZM241.70,366.80L246.40,366.80L246.40,385.60L241.70,385.60L241.70,366.80ZM236.12,366.80L246.40,366.80L246.40,371.50L235.10,371.50L235.10,367.82A1.02,1.02 0 0 1 236.12,366.80ZM219.50,385.60 L235.10,366.80 L241.92,366.80 L226.31,385.60ZM228.38,373.85L246.40,373.85L246.40,378.55L228.38,378.55L228.38,373.85ZM251.00,366.80L255.70,366.80L255.70,385.60L251.00,385.60L251.00,366.80ZM268.60,366.80L273.30,366.80L273.30,385.60L268.60,385.60L268.60,366.80ZM251.00,366.80 L256.64,366.80 L273.30,385.60 L267.66,385.60ZM278.00,366.80L297.80,366.80A3.4,3.4 0 0 1 301.20,370.20L301.20,371.50L278.00,371.50L278.00,366.80ZM278.00,366.80L282.70,366.80L282.70,385.60L278.00,385.60L278.00,366.80ZM296.50,366.80L297.80,366.80A3.4,3.4 0 0 1 301.20,370.20L301.20,382.20A3.4,3.4 0 0 1 297.80,385.60L296.50,385.60L296.50,366.80ZM278.00,380.90L301.20,380.90L301.20,382.20A3.4,3.4 0 0 1 297.80,385.60L278.00,385.60L278.00,380.90ZM316.20,366.80L341.10,366.80L341.10,371.50L316.20,371.50L316.20,366.80ZM326.30,366.80L331.00,366.80L331.00,385.60L326.30,385.60L326.30,366.80ZM347.80,366.80L368.20,366.80L368.20,371.50L344.40,371.50L344.40,370.20A3.4,3.4 0 0 1 347.80,366.80ZM347.80,366.80L349.10,366.80L349.10,385.60L347.80,385.60A3.4,3.4 0 0 1 344.40,382.20L344.40,370.20A3.4,3.4 0 0 1 347.80,366.80ZM344.40,373.85L368.20,373.85L368.20,378.55L344.40,378.55L344.40,373.85ZM344.40,380.90L368.20,380.90L368.20,385.60L347.80,385.60A3.4,3.4 0 0 1 344.40,382.20L344.40,380.90ZM376.50,366.80L396.90,366.80L396.90,371.50L373.10,371.50L373.10,370.20A3.4,3.4 0 0 1 376.50,366.80ZM376.50,366.80L377.80,366.80L377.80,385.60L376.50,385.60A3.4,3.4 0 0 1 373.10,382.20L373.10,370.20A3.4,3.4 0 0 1 376.50,366.80ZM373.10,380.90L396.90,380.90L396.90,385.60L376.50,385.60A3.4,3.4 0 0 1 373.10,382.20L373.10,380.90ZM401.80,366.80L406.50,366.80L406.50,385.60L401.80,385.60L401.80,366.80ZM420.90,366.80L425.60,366.80L425.60,385.60L420.90,385.60L420.90,366.80ZM401.80,373.85L425.60,373.85L425.60,378.55L401.80,378.55L401.80,373.85ZM431.30,366.80L436.00,366.80L436.00,385.60L431.30,385.60L431.30,366.80ZM447.30,366.80L452.00,366.80L452.00,385.60L447.30,385.60L447.30,366.80ZM431.30,366.80 L436.94,366.80 L452.00,385.60 L446.36,385.60ZM460.40,366.80L479.00,366.80A3.4,3.4 0 0 1 482.40,370.20L482.40,371.50L457.00,371.50L457.00,370.20A3.4,3.4 0 0 1 460.40,366.80ZM460.40,366.80L461.70,366.80L461.70,385.60L460.40,385.60A3.4,3.4 0 0 1 457.00,382.20L457.00,370.20A3.4,3.4 0 0 1 460.40,366.80ZM477.70,366.80L479.00,366.80A3.4,3.4 0 0 1 482.40,370.20L482.40,382.20A3.4,3.4 0 0 1 479.00,385.60L477.70,385.60L477.70,366.80ZM457.00,380.90L482.40,380.90L482.40,382.20A3.4,3.4 0 0 1 479.00,385.60L460.40,385.60A3.4,3.4 0 0 1 457.00,382.20L457.00,380.90ZM487.30,366.80L492.00,366.80L492.00,385.60L490.70,385.60A3.4,3.4 0 0 1 487.30,382.20L487.30,366.80ZM487.30,380.90L505.30,380.90L505.30,385.60L490.70,385.60A3.4,3.4 0 0 1 487.30,382.20L487.30,380.90ZM511.20,366.80L529.80,366.80A3.4,3.4 0 0 1 533.20,370.20L533.20,371.50L507.80,371.50L507.80,370.20A3.4,3.4 0 0 1 511.20,366.80ZM511.20,366.80L512.50,366.80L512.50,385.60L511.20,385.60A3.4,3.4 0 0 1 507.80,382.20L507.80,370.20A3.4,3.4 0 0 1 511.20,366.80ZM528.50,366.80L529.80,366.80A3.4,3.4 0 0 1 533.20,370.20L533.20,382.20A3.4,3.4 0 0 1 529.80,385.60L528.50,385.60L528.50,366.80ZM507.80,380.90L533.20,380.90L533.20,382.20A3.4,3.4 0 0 1 529.80,385.60L511.20,385.60A3.4,3.4 0 0 1 507.80,382.20L507.80,380.90ZM541.40,366.80L562.70,366.80L562.70,371.50L538.00,371.50L538.00,370.20A3.4,3.4 0 0 1 541.40,366.80ZM541.40,366.80L542.70,366.80L542.70,385.60L541.40,385.60A3.4,3.4 0 0 1 538.00,382.20L538.00,370.20A3.4,3.4 0 0 1 541.40,366.80ZM538.00,380.90L562.70,380.90L562.70,382.20A3.4,3.4 0 0 1 559.30,385.60L541.40,385.60A3.4,3.4 0 0 1 538.00,382.20L538.00,380.90ZM558.00,373.85L562.70,373.85L562.70,382.20A3.4,3.4 0 0 1 559.30,385.60L558.00,385.60L558.00,373.85ZM550.35,373.85L562.70,373.85L562.70,378.55L550.35,378.55L550.35,373.85ZM566.80,366.80L571.50,366.80L571.50,378.55L570.20,378.55A3.4,3.4 0 0 1 566.80,375.15L566.80,366.80ZM566.80,373.85L590.50,373.85L590.50,378.55L570.20,378.55A3.4,3.4 0 0 1 566.80,375.15L566.80,373.85ZM585.80,366.80L590.50,366.80L590.50,382.20A3.4,3.4 0 0 1 587.10,385.60L585.80,385.60L585.80,366.80ZM566.80,380.90L590.50,380.90L590.50,382.20A3.4,3.4 0 0 1 587.10,385.60L566.80,385.60L566.80,380.90ZM606.88,366.80L627.40,366.80A3.4,3.4 0 0 1 630.80,370.20L630.80,371.50L606.20,371.50L606.20,367.48A0.68,0.68 0 0 1 606.88,366.80ZM606.88,366.80L610.90,366.80L610.90,385.60L606.20,385.60L606.20,367.48A0.68,0.68 0 0 1 606.88,366.80ZM626.10,366.80L627.40,366.80A3.4,3.4 0 0 1 630.80,370.20L630.80,375.15A3.4,3.4 0 0 1 627.40,378.55L626.10,378.55L626.10,366.80ZM606.20,373.85L630.80,373.85L630.80,375.15A3.4,3.4 0 0 1 627.40,378.55L606.20,378.55L606.20,373.85ZM635.70,366.80L640.40,366.80L640.40,385.60L639.10,385.60A3.4,3.4 0 0 1 635.70,382.20L635.70,366.80ZM655.60,366.80L660.30,366.80L660.30,382.20A3.4,3.4 0 0 1 656.90,385.60L655.60,385.60L655.60,366.80ZM635.70,380.90L660.30,380.90L660.30,382.20A3.4,3.4 0 0 1 656.90,385.60L639.10,385.60A3.4,3.4 0 0 1 635.70,382.20L635.70,380.90ZM665.30,366.80L686.10,366.80A3.4,3.4 0 0 1 689.50,370.20L689.50,371.50L665.30,371.50L665.30,366.80ZM665.30,366.80L670.00,366.80L670.00,385.60L665.30,385.60L665.30,366.80ZM684.80,366.80L686.10,366.80A3.4,3.4 0 0 1 689.50,370.20L689.50,382.20A3.4,3.4 0 0 1 686.10,385.60L684.80,385.60L684.80,366.80ZM665.30,373.85L689.50,373.85L689.50,378.55L665.30,378.55L665.30,373.85ZM665.30,380.90L689.50,380.90L689.50,382.20A3.4,3.4 0 0 1 686.10,385.60L665.30,385.60L665.30,380.90ZM694.00,366.80L698.70,366.80L698.70,385.60L697.40,385.60A3.4,3.4 0 0 1 694.00,382.20L694.00,366.80ZM694.00,380.90L712.50,380.90L712.50,385.60L697.40,385.60A3.4,3.4 0 0 1 694.00,382.20L694.00,380.90ZM716.50,366.80L721.70,366.80L721.70,385.60L716.50,385.60L716.50,366.80ZM729.40,366.80L749.00,366.80L749.00,371.50L726.00,371.50L726.00,370.20A3.4,3.4 0 0 1 729.40,366.80ZM729.40,366.80L730.70,366.80L730.70,385.60L729.40,385.60A3.4,3.4 0 0 1 726.00,382.20L726.00,370.20A3.4,3.4 0 0 1 729.40,366.80ZM726.00,380.90L749.00,380.90L749.00,385.60L729.40,385.60A3.4,3.4 0 0 1 726.00,382.20L726.00,380.90ZM771.10,366.80L775.80,366.80L775.80,385.60L771.10,385.60L771.10,366.80ZM766.66,366.80L775.80,366.80L775.80,371.50L765.64,371.50L765.64,367.82A1.02,1.02 0 0 1 766.66,366.80ZM751.60,385.60 L765.64,366.80 L772.45,366.80 L758.42,385.60ZM759.59,373.85L775.80,373.85L775.80,378.55L759.59,378.55L759.59,373.85ZM778.10,366.80L803.00,366.80L803.00,371.50L778.10,371.50L778.10,366.80ZM788.20,366.80L792.90,366.80L792.90,385.60L788.20,385.60L788.20,366.80ZM807.20,366.80L812.40,366.80L812.40,385.60L807.20,385.60L807.20,366.80ZM821.00,366.80L841.20,366.80A3.4,3.4 0 0 1 844.60,370.20L844.60,371.50L817.60,371.50L817.60,370.20A3.4,3.4 0 0 1 821.00,366.80ZM821.00,366.80L822.30,366.80L822.30,385.60L821.00,385.60A3.4,3.4 0 0 1 817.60,382.20L817.60,370.20A3.4,3.4 0 0 1 821.00,366.80ZM839.90,366.80L841.20,366.80A3.4,3.4 0 0 1 844.60,370.20L844.60,382.20A3.4,3.4 0 0 1 841.20,385.60L839.90,385.60L839.90,366.80ZM817.60,380.90L844.60,380.90L844.60,382.20A3.4,3.4 0 0 1 841.20,385.60L821.00,385.60A3.4,3.4 0 0 1 817.60,382.20L817.60,380.90ZM847.70,366.80L852.40,366.80L852.40,385.60L847.70,385.60L847.70,366.80ZM864.80,366.80L869.50,366.80L869.50,385.60L864.80,385.60L864.80,366.80ZM847.70,366.80 L853.34,366.80 L869.50,385.60 L863.86,385.60ZM877.10,366.80L896.23,366.80L896.23,371.50L873.70,371.50L873.70,370.20A3.4,3.4 0 0 1 877.10,366.80ZM877.10,366.80L878.40,366.80L878.40,378.55L876.76,378.55A3.06,3.06 0 0 1 873.70,375.49L873.70,370.20A3.4,3.4 0 0 1 877.10,366.80ZM873.70,373.85L894.44,373.85A3.06,3.06 0 0 1 897.50,376.91L897.50,378.55L876.76,378.55A3.06,3.06 0 0 1 873.70,375.49L873.70,373.85ZM892.80,373.85L894.44,373.85A3.06,3.06 0 0 1 897.50,376.91L897.50,382.20A3.4,3.4 0 0 1 894.10,385.60L892.80,385.60L892.80,373.85ZM874.97,380.90L897.50,380.90L897.50,382.20A3.4,3.4 0 0 1 894.10,385.60L874.97,385.60L874.97,380.90Z" fill="#cecece"/>
</g>
<path d="M0,209.4 H425.9" stroke="#000" stroke-width="1.1"/>
<path d="M0,247.5 H425.9" stroke="#000" stroke-width="1.1"/>
<path d="M0,266.5 H425.9" stroke="#000" stroke-width="1.1"/>
<path d="M0,285.5 H425.9" stroke="#000" stroke-width="1.1"/>
<path d="M0,305.1 H425.9" stroke="#000" stroke-width="1.1"/>
<path d="M0.6,209.4 V305.1" stroke="#000" stroke-width="1.1"/>
<path d="M80.4,209.4 V305.1" stroke="#000" stroke-width="1.1"/>
<path d="M425.4,209.4 V305.1" stroke="#000" stroke-width="1.1"/>
<path d="M553.50,4.40 V239.20 H858.40" stroke="#878787" stroke-width="1" fill="none"/>
<text x="543.70" y="242.80" text-anchor="end" class="ax">0</text>
<text x="543.70" y="219.32" text-anchor="end" class="ax">100</text>
<text x="543.70" y="195.84" text-anchor="end" class="ax">200</text>
<text x="543.70" y="172.36" text-anchor="end" class="ax">300</text>
<text x="543.70" y="148.88" text-anchor="end" class="ax">400</text>
<text x="543.70" y="125.40" text-anchor="end" class="ax">500</text>
<text x="543.70" y="101.92" text-anchor="end" class="ax">600</text>
<text x="543.70" y="78.44" text-anchor="end" class="ax">700</text>
<text x="543.70" y="54.96" text-anchor="end" class="ax">800</text>
<text x="543.70" y="31.48" text-anchor="end" class="ax">900</text>
<text x="543.70" y="8.00" text-anchor="end" class="ax">1000</text>
<path d="M550.00,239.20 H553.50 M550.00,215.72 H553.50 M550.00,192.24 H553.50 M550.00,168.76 H553.50 M550.00,145.28 H553.50 M550.00,121.80 H553.50 M550.00,98.32 H553.50 M550.00,74.84 H553.50 M550.00,51.36 H553.50 M550.00,27.88 H553.50 M550.00,4.40 H553.50 M553.50,239.20 V242.70 M591.61,239.20 V242.70 M629.73,239.20 V242.70 M667.84,239.20 V242.70 M705.95,239.20 V242.70 M744.06,239.20 V242.70 M782.17,239.20 V242.70 M820.29,239.20 V242.70 M858.40,239.20 V242.70" stroke="#878787" stroke-width="1" fill="none"/>
<text x="572.56" y="256.00" text-anchor="middle" class="ax">23</text>
<text x="610.67" y="256.00" text-anchor="middle" class="ax">27</text>
<text x="648.78" y="256.00" text-anchor="middle" class="ax">33</text>
<text x="686.89" y="256.00" text-anchor="middle" class="ax">40</text>
<text x="725.01" y="256.00" text-anchor="middle" class="ax">47</text>
<text x="763.12" y="256.00" text-anchor="middle" class="ax">55</text>
<text x="801.23" y="256.00" text-anchor="middle" class="ax">62</text>
<text x="839.34" y="256.00" text-anchor="middle" class="ax">72</text>
<text x="705.95" y="271.00" text-anchor="middle" class="tt">Q m3/h</text>
<text transform="translate(516.50,121.80) rotate(-90)" x="0" y="0" text-anchor="middle" class="tt yt">Ps kW</text>
<polyline points="572.56,162.89 610.67,157.02 648.78,145.98 686.89,131.19 725.01,114.05 763.12,93.15 801.23,73.20 839.34,42.91" stroke="#4a7ebb" stroke-width="2.3" fill="none" stroke-linejoin="round"/>
<path d="M572.56,158.69 L576.76,162.89 L572.56,167.09 L568.36,162.89Z" fill="#4a7ebb"/>
<path d="M610.67,152.82 L614.87,157.02 L610.67,161.22 L606.47,157.02Z" fill="#4a7ebb"/>
<path d="M648.78,141.78 L652.98,145.98 L648.78,150.18 L644.58,145.98Z" fill="#4a7ebb"/>
<path d="M686.89,126.99 L691.09,131.19 L686.89,135.39 L682.69,131.19Z" fill="#4a7ebb"/>
<path d="M725.01,109.85 L729.21,114.05 L725.01,118.25 L720.81,114.05Z" fill="#4a7ebb"/>
<path d="M763.12,88.95 L767.32,93.15 L763.12,97.35 L758.92,93.15Z" fill="#4a7ebb"/>
<path d="M801.23,69.00 L805.43,73.20 L801.23,77.40 L797.03,73.20Z" fill="#4a7ebb"/>
<path d="M839.34,38.71 L843.54,42.91 L839.34,47.11 L835.14,42.91Z" fill="#4a7ebb"/>
<polyline points="572.56,168.76 610.67,161.72 648.78,149.98 686.89,134.24 725.01,118.75 763.12,98.79 801.23,81.18 839.34,52.06" stroke="#be4b48" stroke-width="2.3" fill="none" stroke-linejoin="round"/>
<rect x="568.36" y="164.56" width="8.40" height="8.40" fill="#be4b48"/>
<rect x="606.47" y="157.52" width="8.40" height="8.40" fill="#be4b48"/>
<rect x="644.58" y="145.78" width="8.40" height="8.40" fill="#be4b48"/>
<rect x="682.69" y="130.04" width="8.40" height="8.40" fill="#be4b48"/>
<rect x="720.81" y="114.55" width="8.40" height="8.40" fill="#be4b48"/>
<rect x="758.92" y="94.59" width="8.40" height="8.40" fill="#be4b48"/>
<rect x="797.03" y="76.98" width="8.40" height="8.40" fill="#be4b48"/>
<rect x="835.14" y="47.86" width="8.40" height="8.40" fill="#be4b48"/>
<polyline points="572.56,154.67 610.67,146.45 648.78,133.54 686.89,118.28 725.01,101.37 763.12,80.71 801.23,60.75 839.34,30.23" stroke="#98b954" stroke-width="2.3" fill="none" stroke-linejoin="round"/>
<path d="M572.56,150.07 L577.16,158.35 L567.96,158.35Z" fill="#98b954"/>
<path d="M610.67,141.85 L615.27,150.13 L606.07,150.13Z" fill="#98b954"/>
<path d="M648.78,128.94 L653.38,137.22 L644.18,137.22Z" fill="#98b954"/>
<path d="M686.89,113.68 L691.49,121.96 L682.29,121.96Z" fill="#98b954"/>
<path d="M725.01,96.77 L729.61,105.05 L720.41,105.05Z" fill="#98b954"/>
<path d="M763.12,76.11 L767.72,84.39 L758.52,84.39Z" fill="#98b954"/>
<path d="M801.23,56.15 L805.83,64.43 L796.63,64.43Z" fill="#98b954"/>
<path d="M839.34,25.63 L843.94,33.91 L834.74,33.91Z" fill="#98b954"/>
<path d="M660.20,172.20 H680.50" stroke="#4a7ebb" stroke-width="2.1" stroke-linecap="round"/>
<path d="M670.35,169.05 L673.50,172.20 L670.35,175.35 L667.20,172.20Z" fill="#4a7ebb"/>
<text x="683.30" y="174.80" textLength="134.70" lengthAdjust="spacingAndGlyphs" class="lg">imp6-ang19,81-width5-5stages</text>
<path d="M660.20,190.80 H680.50" stroke="#be4b48" stroke-width="2.1" stroke-linecap="round"/>
<rect x="667.20" y="187.65" width="6.30" height="6.30" fill="#be4b48"/>
<text x="683.30" y="193.40" textLength="134.70" lengthAdjust="spacingAndGlyphs" class="lg">imp7-ang25,38-width7-5stages</text>
<path d="M660.20,208.50 H680.50" stroke="#98b954" stroke-width="2.1" stroke-linecap="round"/>
<path d="M670.35,205.05 L673.80,211.26 L666.90,211.26Z" fill="#98b954"/>
<text x="683.30" y="211.10" textLength="134.70" lengthAdjust="spacingAndGlyphs" class="lg">imp8-ang21,24-width4-5stages</text><path d="M553.40,355.30 V578.30 H858.50" stroke="#878787" stroke-width="1" fill="none"/>
<text x="543.70" y="581.90" text-anchor="end" class="ax">0</text>
<text x="543.70" y="544.73" text-anchor="end" class="ax">200</text>
<text x="543.70" y="507.57" text-anchor="end" class="ax">400</text>
<text x="543.70" y="470.40" text-anchor="end" class="ax">600</text>
<text x="543.70" y="433.23" text-anchor="end" class="ax">800</text>
<text x="543.70" y="396.07" text-anchor="end" class="ax">1000</text>
<text x="543.70" y="358.90" text-anchor="end" class="ax">1200</text>
<path d="M549.90,578.30 H553.40 M549.90,541.13 H553.40 M549.90,503.97 H553.40 M549.90,466.80 H553.40 M549.90,429.63 H553.40 M549.90,392.47 H553.40 M549.90,355.30 H553.40 M553.40,578.30 V581.80 M591.54,578.30 V581.80 M629.67,578.30 V581.80 M667.81,578.30 V581.80 M705.95,578.30 V581.80 M744.09,578.30 V581.80 M782.23,578.30 V581.80 M820.36,578.30 V581.80 M858.50,578.30 V581.80" stroke="#878787" stroke-width="1" fill="none"/>
<text x="572.47" y="595.10" text-anchor="middle" class="ax">23</text>
<text x="610.61" y="595.10" text-anchor="middle" class="ax">27</text>
<text x="648.74" y="595.10" text-anchor="middle" class="ax">33</text>
<text x="686.88" y="595.10" text-anchor="middle" class="ax">40</text>
<text x="725.02" y="595.10" text-anchor="middle" class="ax">47</text>
<text x="763.16" y="595.10" text-anchor="middle" class="ax">55</text>
<text x="801.29" y="595.10" text-anchor="middle" class="ax">62</text>
<text x="839.43" y="595.10" text-anchor="middle" class="ax">72</text>
<text x="705.95" y="609.80" text-anchor="middle" class="tt">Q m3/h</text>
<text transform="translate(516.00,466.80) rotate(-90)" x="0" y="0" text-anchor="middle" class="tt yt">Ps kW</text>
<polyline points="572.47,496.53 610.61,490.96 648.74,479.81 686.88,464.94 725.02,448.22 763.16,427.77 801.29,409.19 839.43,380.39" stroke="#4a7ebb" stroke-width="2.3" fill="none" stroke-linejoin="round"/>
<path d="M572.47,492.33 L576.67,496.53 L572.47,500.73 L568.27,496.53Z" fill="#4a7ebb"/>
<path d="M610.61,486.76 L614.81,490.96 L610.61,495.16 L606.41,490.96Z" fill="#4a7ebb"/>
<path d="M648.74,475.61 L652.94,479.81 L648.74,484.01 L644.54,479.81Z" fill="#4a7ebb"/>
<path d="M686.88,460.74 L691.08,464.94 L686.88,469.14 L682.68,464.94Z" fill="#4a7ebb"/>
<path d="M725.02,444.02 L729.22,448.22 L725.02,452.42 L720.82,448.22Z" fill="#4a7ebb"/>
<path d="M763.16,423.57 L767.36,427.77 L763.16,431.97 L758.96,427.77Z" fill="#4a7ebb"/>
<path d="M801.29,404.99 L805.49,409.19 L801.29,413.39 L797.09,409.19Z" fill="#4a7ebb"/>
<path d="M839.43,376.19 L843.63,380.39 L839.43,384.59 L835.23,380.39Z" fill="#4a7ebb"/>
<polyline points="572.47,510.47 610.61,503.97 648.74,491.89 686.88,477.02 725.02,461.22 763.16,440.78 801.29,422.20 839.43,393.40" stroke="#be4b48" stroke-width="2.3" fill="none" stroke-linejoin="round"/>
<rect x="568.27" y="506.27" width="8.40" height="8.40" fill="#be4b48"/>
<rect x="606.41" y="499.77" width="8.40" height="8.40" fill="#be4b48"/>
<rect x="644.54" y="487.69" width="8.40" height="8.40" fill="#be4b48"/>
<rect x="682.68" y="472.82" width="8.40" height="8.40" fill="#be4b48"/>
<rect x="720.82" y="457.02" width="8.40" height="8.40" fill="#be4b48"/>
<rect x="758.96" y="436.58" width="8.40" height="8.40" fill="#be4b48"/>
<rect x="797.09" y="418.00" width="8.40" height="8.40" fill="#be4b48"/>
<rect x="835.23" y="389.20" width="8.40" height="8.40" fill="#be4b48"/>
<polyline points="572.47,494.67 610.61,487.24 648.74,474.23 686.88,458.44 725.02,442.64 763.16,422.20 801.29,403.62 839.43,374.81" stroke="#98b954" stroke-width="2.3" fill="none" stroke-linejoin="round"/>
<path d="M572.47,490.07 L577.07,498.35 L567.87,498.35Z" fill="#98b954"/>
<path d="M610.61,482.64 L615.21,490.92 L606.01,490.92Z" fill="#98b954"/>
<path d="M648.74,469.63 L653.34,477.91 L644.14,477.91Z" fill="#98b954"/>
<path d="M686.88,453.84 L691.48,462.12 L682.28,462.12Z" fill="#98b954"/>
<path d="M725.02,438.04 L729.62,446.32 L720.42,446.32Z" fill="#98b954"/>
<path d="M763.16,417.60 L767.76,425.88 L758.56,425.88Z" fill="#98b954"/>
<path d="M801.29,399.02 L805.89,407.30 L796.69,407.30Z" fill="#98b954"/>
<path d="M839.43,370.21 L844.03,378.49 L834.83,378.49Z" fill="#98b954"/>
<path d="M650.70,521.10 H670.10" stroke="#4a7ebb" stroke-width="2.1" stroke-linecap="round"/>
<path d="M660.40,517.95 L663.55,521.10 L660.40,524.25 L657.25,521.10Z" fill="#4a7ebb"/>
<text x="673.30" y="523.70" textLength="134.80" lengthAdjust="spacingAndGlyphs" class="lg">imp6-ang19,81-width5-6stages</text>
<path d="M650.70,539.70 H670.10" stroke="#be4b48" stroke-width="2.1" stroke-linecap="round"/>
<rect x="657.25" y="536.55" width="6.30" height="6.30" fill="#be4b48"/>
<text x="673.30" y="542.30" textLength="134.80" lengthAdjust="spacingAndGlyphs" class="lg">imp7-ang25,38-width7-6stages</text>
<path d="M650.70,557.80 H670.10" stroke="#98b954" stroke-width="2.1" stroke-linecap="round"/>
<path d="M660.40,554.35 L663.85,560.56 L656.95,560.56Z" fill="#98b954"/>
<text x="673.30" y="560.40" textLength="134.80" lengthAdjust="spacingAndGlyphs" class="lg">imp8-ang21,24-width4-6stages</text><path d="M79.10,487.50 V721.20 H384.60" stroke="#878787" stroke-width="1" fill="none"/>
<text x="69.00" y="724.80" text-anchor="end" class="ax">0</text>
<text x="69.00" y="685.85" text-anchor="end" class="ax">20</text>
<text x="69.00" y="646.90" text-anchor="end" class="ax">40</text>
<text x="69.00" y="607.95" text-anchor="end" class="ax">60</text>
<text x="69.00" y="569.00" text-anchor="end" class="ax">80</text>
<text x="69.00" y="530.05" text-anchor="end" class="ax">100</text>
<text x="69.00" y="491.10" text-anchor="end" class="ax">120</text>
<path d="M75.60,721.20 H79.10 M75.60,682.25 H79.10 M75.60,643.30 H79.10 M75.60,604.35 H79.10 M75.60,565.40 H79.10 M75.60,526.45 H79.10 M75.60,487.50 H79.10 M79.10,721.20 V724.70 M117.29,721.20 V724.70 M155.47,721.20 V724.70 M193.66,721.20 V724.70 M231.85,721.20 V724.70 M270.04,721.20 V724.70 M308.23,721.20 V724.70 M346.41,721.20 V724.70 M384.60,721.20 V724.70" stroke="#878787" stroke-width="1" fill="none"/>
<text x="98.19" y="738.30" text-anchor="middle" class="ax">23</text>
<text x="136.38" y="738.30" text-anchor="middle" class="ax">27</text>
<text x="174.57" y="738.30" text-anchor="middle" class="ax">33</text>
<text x="212.76" y="738.30" text-anchor="middle" class="ax">40</text>
<text x="250.94" y="738.30" text-anchor="middle" class="ax">47</text>
<text x="289.13" y="738.30" text-anchor="middle" class="ax">55</text>
<text x="327.32" y="738.30" text-anchor="middle" class="ax">62</text>
<text x="365.51" y="738.30" text-anchor="middle" class="ax">72</text>
<text x="231.85" y="753.80" text-anchor="middle" class="tt">Q m3/h</text>
<text transform="translate(47.00,604.35) rotate(-90)" x="0" y="0" text-anchor="middle" class="tt yt">H m</text>
<polyline points="98.19,522.56 136.38,529.37 174.57,542.03 212.76,561.50 250.94,583.90 289.13,614.09 327.32,643.30 365.51,688.09" stroke="#4a7ebb" stroke-width="2.3" fill="none" stroke-linejoin="round"/>
<path d="M98.19,518.36 L102.39,522.56 L98.19,526.76 L93.99,522.56Z" fill="#4a7ebb"/>
<path d="M136.38,525.17 L140.58,529.37 L136.38,533.57 L132.18,529.37Z" fill="#4a7ebb"/>
<path d="M174.57,537.83 L178.77,542.03 L174.57,546.23 L170.37,542.03Z" fill="#4a7ebb"/>
<path d="M212.76,557.30 L216.96,561.50 L212.76,565.71 L208.56,561.50Z" fill="#4a7ebb"/>
<path d="M250.94,579.70 L255.14,583.90 L250.94,588.10 L246.74,583.90Z" fill="#4a7ebb"/>
<path d="M289.13,609.89 L293.33,614.09 L289.13,618.29 L284.93,614.09Z" fill="#4a7ebb"/>
<path d="M327.32,639.10 L331.52,643.30 L327.32,647.50 L323.12,643.30Z" fill="#4a7ebb"/>
<path d="M365.51,683.89 L369.71,688.09 L365.51,692.29 L361.31,688.09Z" fill="#4a7ebb"/>
<polyline points="98.19,505.03 136.38,510.87 174.57,522.56 212.76,540.08 250.94,558.58 289.13,584.88 327.32,611.17 365.51,651.09" stroke="#be4b48" stroke-width="2.3" fill="none" stroke-linejoin="round"/>
<rect x="93.99" y="500.83" width="8.40" height="8.40" fill="#be4b48"/>
<rect x="132.18" y="506.67" width="8.40" height="8.40" fill="#be4b48"/>
<rect x="170.37" y="518.36" width="8.40" height="8.40" fill="#be4b48"/>
<rect x="208.56" y="535.88" width="8.40" height="8.40" fill="#be4b48"/>
<rect x="246.74" y="554.38" width="8.40" height="8.40" fill="#be4b48"/>
<rect x="284.93" y="580.67" width="8.40" height="8.40" fill="#be4b48"/>
<rect x="323.12" y="606.97" width="8.40" height="8.40" fill="#be4b48"/>
<rect x="361.31" y="646.89" width="8.40" height="8.40" fill="#be4b48"/>
<polyline points="98.19,508.92 136.38,517.69 174.57,530.35 212.76,546.90 250.94,563.45 289.13,587.80 327.32,607.27 365.51,641.35" stroke="#98b954" stroke-width="2.3" fill="none" stroke-linejoin="round"/>
<path d="M98.19,504.32 L102.79,512.60 L93.59,512.60Z" fill="#98b954"/>
<path d="M136.38,513.09 L140.98,521.37 L131.78,521.37Z" fill="#98b954"/>
<path d="M174.57,525.75 L179.17,534.02 L169.97,534.02Z" fill="#98b954"/>
<path d="M212.76,542.30 L217.36,550.58 L208.16,550.58Z" fill="#98b954"/>
<path d="M250.94,558.85 L255.54,567.13 L246.34,567.13Z" fill="#98b954"/>
<path d="M289.13,583.20 L293.73,591.48 L284.53,591.48Z" fill="#98b954"/>
<path d="M327.32,602.67 L331.92,610.95 L322.72,610.95Z" fill="#98b954"/>
<path d="M365.51,636.75 L370.11,645.03 L360.91,645.03Z" fill="#98b954"/>
<path d="M104.60,652.80 H123.50" stroke="#4a7ebb" stroke-width="2.1" stroke-linecap="round"/>
<path d="M114.05,649.65 L117.20,652.80 L114.05,655.95 L110.90,652.80Z" fill="#4a7ebb"/>
<text x="126.00" y="655.40" textLength="133.40" lengthAdjust="spacingAndGlyphs" class="lg">imp6-ang19,81-width5-5stages</text>
<path d="M104.60,672.10 H123.50" stroke="#be4b48" stroke-width="2.1" stroke-linecap="round"/>
<rect x="110.90" y="668.95" width="6.30" height="6.30" fill="#be4b48"/>
<text x="126.00" y="674.70" textLength="133.40" lengthAdjust="spacingAndGlyphs" class="lg">imp7-ang25,38-width7-5stages</text>
<path d="M104.60,691.10 H123.50" stroke="#98b954" stroke-width="2.1" stroke-linecap="round"/>
<path d="M114.05,687.65 L117.50,693.86 L110.60,693.86Z" fill="#98b954"/>
<text x="126.00" y="693.70" textLength="133.40" lengthAdjust="spacingAndGlyphs" class="lg">imp8-ang21,24-width4-5stages</text><path d="M79.30,821.00 V1055.60 H384.80" stroke="#878787" stroke-width="1" fill="none"/>
<text x="69.20" y="1059.20" text-anchor="end" class="ax">0</text>
<text x="69.20" y="1025.69" text-anchor="end" class="ax">20</text>
<text x="69.20" y="992.17" text-anchor="end" class="ax">40</text>
<text x="69.20" y="958.66" text-anchor="end" class="ax">60</text>
<text x="69.20" y="925.14" text-anchor="end" class="ax">80</text>
<text x="69.20" y="891.63" text-anchor="end" class="ax">100</text>
<text x="69.20" y="858.11" text-anchor="end" class="ax">120</text>
<text x="69.20" y="824.60" text-anchor="end" class="ax">140</text>
<path d="M75.80,1055.60 H79.30 M75.80,1022.09 H79.30 M75.80,988.57 H79.30 M75.80,955.06 H79.30 M75.80,921.54 H79.30 M75.80,888.03 H79.30 M75.80,854.51 H79.30 M75.80,821.00 H79.30 M79.30,1055.60 V1059.10 M117.49,1055.60 V1059.10 M155.68,1055.60 V1059.10 M193.86,1055.60 V1059.10 M232.05,1055.60 V1059.10 M270.24,1055.60 V1059.10 M308.43,1055.60 V1059.10 M346.61,1055.60 V1059.10 M384.80,1055.60 V1059.10" stroke="#878787" stroke-width="1" fill="none"/>
<text x="98.39" y="1073.50" text-anchor="middle" class="ax">23</text>
<text x="136.58" y="1073.50" text-anchor="middle" class="ax">27</text>
<text x="174.77" y="1073.50" text-anchor="middle" class="ax">33</text>
<text x="212.96" y="1073.50" text-anchor="middle" class="ax">40</text>
<text x="251.14" y="1073.50" text-anchor="middle" class="ax">47</text>
<text x="289.33" y="1073.50" text-anchor="middle" class="ax">55</text>
<text x="327.52" y="1073.50" text-anchor="middle" class="ax">62</text>
<text x="365.71" y="1073.50" text-anchor="middle" class="ax">72</text>
<text x="232.05" y="1089.00" text-anchor="middle" class="tt">Q m3/h</text>
<text transform="translate(47.00,938.30) rotate(-90)" x="0" y="0" text-anchor="middle" class="tt yt">H m</text>
<polyline points="98.39,843.62 136.58,852.84 174.77,867.08 212.96,888.03 251.14,913.16 289.33,943.33 327.52,973.49 365.71,1022.09" stroke="#4a7ebb" stroke-width="2.3" fill="none" stroke-linejoin="round"/>
<path d="M98.39,839.42 L102.59,843.62 L98.39,847.82 L94.19,843.62Z" fill="#4a7ebb"/>
<path d="M136.58,848.64 L140.78,852.84 L136.58,857.04 L132.38,852.84Z" fill="#4a7ebb"/>
<path d="M174.77,862.88 L178.97,867.08 L174.77,871.28 L170.57,867.08Z" fill="#4a7ebb"/>
<path d="M212.96,883.83 L217.16,888.03 L212.96,892.23 L208.76,888.03Z" fill="#4a7ebb"/>
<path d="M251.14,908.96 L255.34,913.16 L251.14,917.36 L246.94,913.16Z" fill="#4a7ebb"/>
<path d="M289.33,939.13 L293.53,943.33 L289.33,947.53 L285.13,943.33Z" fill="#4a7ebb"/>
<path d="M327.52,969.29 L331.72,973.49 L327.52,977.69 L323.32,973.49Z" fill="#4a7ebb"/>
<path d="M365.71,1017.89 L369.91,1022.09 L365.71,1026.29 L361.51,1022.09Z" fill="#4a7ebb"/>
<polyline points="98.39,834.41 136.58,841.95 174.77,853.68 212.96,871.27 251.14,891.38 289.33,920.70 327.52,945.00 365.71,991.08" stroke="#be4b48" stroke-width="2.3" fill="none" stroke-linejoin="round"/>
<rect x="94.19" y="830.21" width="8.40" height="8.40" fill="#be4b48"/>
<rect x="132.38" y="837.75" width="8.40" height="8.40" fill="#be4b48"/>
<rect x="170.57" y="849.48" width="8.40" height="8.40" fill="#be4b48"/>
<rect x="208.76" y="867.07" width="8.40" height="8.40" fill="#be4b48"/>
<rect x="246.94" y="887.18" width="8.40" height="8.40" fill="#be4b48"/>
<rect x="285.13" y="916.50" width="8.40" height="8.40" fill="#be4b48"/>
<rect x="323.32" y="940.80" width="8.40" height="8.40" fill="#be4b48"/>
<rect x="361.51" y="986.88" width="8.40" height="8.40" fill="#be4b48"/>
<polyline points="98.39,836.08 136.58,843.62 174.77,857.87 212.96,875.46 251.14,895.57 289.33,921.54 327.52,945.84 365.71,983.54" stroke="#98b954" stroke-width="2.3" fill="none" stroke-linejoin="round"/>
<path d="M98.39,831.48 L102.99,839.76 L93.79,839.76Z" fill="#98b954"/>
<path d="M136.58,839.02 L141.18,847.30 L131.98,847.30Z" fill="#98b954"/>
<path d="M174.77,853.27 L179.37,861.55 L170.17,861.55Z" fill="#98b954"/>
<path d="M212.96,870.86 L217.56,879.14 L208.36,879.14Z" fill="#98b954"/>
<path d="M251.14,890.97 L255.74,899.25 L246.54,899.25Z" fill="#98b954"/>
<path d="M289.33,916.94 L293.93,925.22 L284.73,925.22Z" fill="#98b954"/>
<path d="M327.52,941.24 L332.12,949.52 L322.92,949.52Z" fill="#98b954"/>
<path d="M365.71,978.94 L370.31,987.22 L361.11,987.22Z" fill="#98b954"/>
<path d="M106.30,991.70 H125.00" stroke="#4a7ebb" stroke-width="2.1" stroke-linecap="round"/>
<path d="M115.65,988.55 L118.80,991.70 L115.65,994.85 L112.50,991.70Z" fill="#4a7ebb"/>
<text x="128.90" y="994.30" textLength="134.90" lengthAdjust="spacingAndGlyphs" class="lg">imp6-ang19,81-width5-6stages</text>
<path d="M106.30,1011.00 H125.00" stroke="#be4b48" stroke-width="2.1" stroke-linecap="round"/>
<rect x="112.50" y="1007.85" width="6.30" height="6.30" fill="#be4b48"/>
<text x="128.90" y="1013.60" textLength="134.90" lengthAdjust="spacingAndGlyphs" class="lg">imp7-ang25,38-width7-6stages</text>
<path d="M106.30,1031.10 H125.00" stroke="#98b954" stroke-width="2.1" stroke-linecap="round"/>
<path d="M115.65,1027.65 L119.10,1033.86 L112.20,1033.86Z" fill="#98b954"/>
<text x="128.90" y="1033.70" textLength="134.90" lengthAdjust="spacingAndGlyphs" class="lg">imp8-ang21,24-width4-6stages</text><path d="M549.20,803.40 V1037.10 H855.40" stroke="#878787" stroke-width="1" fill="none"/>
<text x="539.00" y="1040.70" text-anchor="end" class="ax">0</text>
<text x="539.00" y="1017.33" text-anchor="end" class="ax">10</text>
<text x="539.00" y="993.96" text-anchor="end" class="ax">20</text>
<text x="539.00" y="970.59" text-anchor="end" class="ax">30</text>
<text x="539.00" y="947.22" text-anchor="end" class="ax">40</text>
<text x="539.00" y="923.85" text-anchor="end" class="ax">50</text>
<text x="539.00" y="900.48" text-anchor="end" class="ax">60</text>
<text x="539.00" y="877.11" text-anchor="end" class="ax">70</text>
<text x="539.00" y="853.74" text-anchor="end" class="ax">80</text>
<text x="539.00" y="830.37" text-anchor="end" class="ax">90</text>
<text x="539.00" y="807.00" text-anchor="end" class="ax">100</text>
<path d="M545.70,1037.10 H549.20 M545.70,1013.73 H549.20 M545.70,990.36 H549.20 M545.70,966.99 H549.20 M545.70,943.62 H549.20 M545.70,920.25 H549.20 M545.70,896.88 H549.20 M545.70,873.51 H549.20 M545.70,850.14 H549.20 M545.70,826.77 H549.20 M545.70,803.40 H549.20 M549.20,1037.10 V1040.60 M587.48,1037.10 V1040.60 M625.75,1037.10 V1040.60 M664.02,1037.10 V1040.60 M702.30,1037.10 V1040.60 M740.58,1037.10 V1040.60 M778.85,1037.10 V1040.60 M817.12,1037.10 V1040.60 M855.40,1037.10 V1040.60" stroke="#878787" stroke-width="1" fill="none"/>
<text x="568.34" y="1053.80" text-anchor="middle" class="ax">23</text>
<text x="606.61" y="1053.80" text-anchor="middle" class="ax">27</text>
<text x="644.89" y="1053.80" text-anchor="middle" class="ax">33</text>
<text x="683.16" y="1053.80" text-anchor="middle" class="ax">40</text>
<text x="721.44" y="1053.80" text-anchor="middle" class="ax">47</text>
<text x="759.71" y="1053.80" text-anchor="middle" class="ax">55</text>
<text x="797.99" y="1053.80" text-anchor="middle" class="ax">62</text>
<text x="836.26" y="1053.80" text-anchor="middle" class="ax">72</text>
<text x="702.30" y="1069.20" text-anchor="middle" class="tt">Q m3/h</text>
<text transform="translate(516.60,920.25) rotate(-90)" x="0" y="0" text-anchor="middle" class="tt yt">η</text>
<polyline points="568.34,871.17 606.61,864.16 644.89,862.99 683.16,874.68 721.44,894.54 759.71,924.92 797.99,957.64 836.26,1004.38" stroke="#4a7ebb" stroke-width="2.3" fill="none" stroke-linejoin="round"/>
<path d="M568.34,866.97 L572.54,871.17 L568.34,875.37 L564.14,871.17Z" fill="#4a7ebb"/>
<path d="M606.61,859.96 L610.81,864.16 L606.61,868.36 L602.41,864.16Z" fill="#4a7ebb"/>
<path d="M644.89,858.79 L649.09,862.99 L644.89,867.19 L640.69,862.99Z" fill="#4a7ebb"/>
<path d="M683.16,870.48 L687.36,874.68 L683.16,878.88 L678.96,874.68Z" fill="#4a7ebb"/>
<path d="M721.44,890.34 L725.64,894.54 L721.44,898.74 L717.24,894.54Z" fill="#4a7ebb"/>
<path d="M759.71,920.72 L763.91,924.92 L759.71,929.12 L755.51,924.92Z" fill="#4a7ebb"/>
<path d="M797.99,953.44 L802.19,957.64 L797.99,961.84 L793.79,957.64Z" fill="#4a7ebb"/>
<path d="M836.26,1000.18 L840.46,1004.38 L836.26,1008.58 L832.06,1004.38Z" fill="#4a7ebb"/>
<polyline points="568.34,843.13 606.61,836.12 644.89,836.12 683.16,845.47 721.44,862.99 759.71,889.87 797.99,919.08 836.26,963.48" stroke="#be4b48" stroke-width="2.3" fill="none" stroke-linejoin="round"/>
<rect x="564.14" y="838.93" width="8.40" height="8.40" fill="#be4b48"/>
<rect x="602.41" y="831.92" width="8.40" height="8.40" fill="#be4b48"/>
<rect x="640.69" y="831.92" width="8.40" height="8.40" fill="#be4b48"/>
<rect x="678.96" y="841.27" width="8.40" height="8.40" fill="#be4b48"/>
<rect x="717.24" y="858.79" width="8.40" height="8.40" fill="#be4b48"/>
<rect x="755.51" y="885.67" width="8.40" height="8.40" fill="#be4b48"/>
<rect x="793.79" y="914.88" width="8.40" height="8.40" fill="#be4b48"/>
<rect x="832.06" y="959.28" width="8.40" height="8.40" fill="#be4b48"/>
<polyline points="568.34,878.18 606.61,874.68 644.89,873.51 683.16,878.18 721.44,889.87 759.71,908.56 797.99,928.43 836.26,962.32" stroke="#98b954" stroke-width="2.3" fill="none" stroke-linejoin="round"/>
<path d="M568.34,873.58 L572.94,881.86 L563.74,881.86Z" fill="#98b954"/>
<path d="M606.61,870.08 L611.21,878.36 L602.01,878.36Z" fill="#98b954"/>
<path d="M644.89,868.91 L649.49,877.19 L640.29,877.19Z" fill="#98b954"/>
<path d="M683.16,873.58 L687.76,881.86 L678.56,881.86Z" fill="#98b954"/>
<path d="M721.44,885.27 L726.04,893.55 L716.84,893.55Z" fill="#98b954"/>
<path d="M759.71,903.96 L764.31,912.24 L755.11,912.24Z" fill="#98b954"/>
<path d="M797.99,923.83 L802.59,932.11 L793.39,932.11Z" fill="#98b954"/>
<path d="M836.26,957.72 L840.86,966.00 L831.66,966.00Z" fill="#98b954"/>
<path d="M578.50,970.60 H598.30" stroke="#4a7ebb" stroke-width="2.1" stroke-linecap="round"/>
<path d="M588.40,967.45 L591.55,970.60 L588.40,973.75 L585.25,970.60Z" fill="#4a7ebb"/>
<text x="601.10" y="973.20" textLength="133.80" lengthAdjust="spacingAndGlyphs" class="lg">imp6-ang19,81-width5-5stages</text>
<path d="M578.50,989.20 H598.30" stroke="#be4b48" stroke-width="2.1" stroke-linecap="round"/>
<rect x="585.25" y="986.05" width="6.30" height="6.30" fill="#be4b48"/>
<text x="601.10" y="991.80" textLength="133.80" lengthAdjust="spacingAndGlyphs" class="lg">imp7-ang25,38-width7-5stages</text>
<path d="M578.50,1007.80 H598.30" stroke="#98b954" stroke-width="2.1" stroke-linecap="round"/>
<path d="M588.40,1004.35 L591.85,1010.56 L584.95,1010.56Z" fill="#98b954"/>
<text x="601.10" y="1010.40" textLength="133.80" lengthAdjust="spacingAndGlyphs" class="lg">imp8-ang21,24-width4-5stages</text>
</svg>
</body></html>
